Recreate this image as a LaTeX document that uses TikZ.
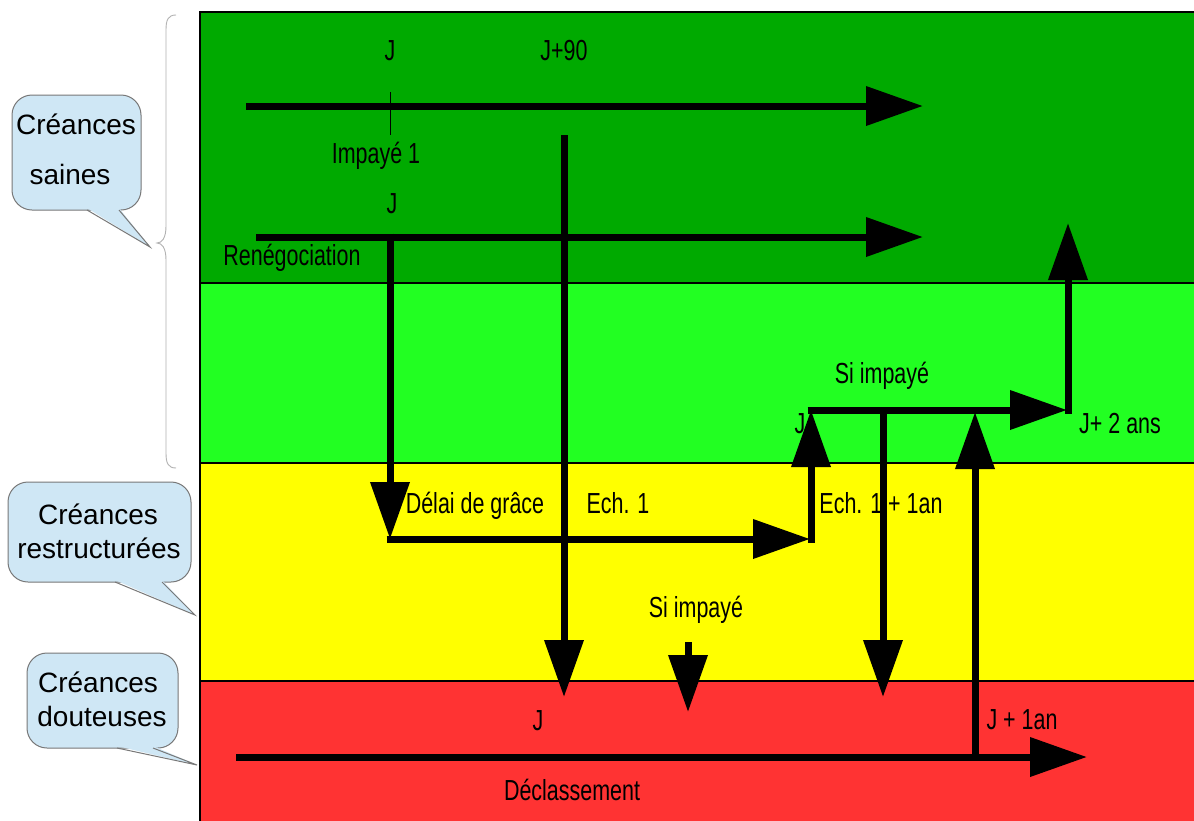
\documentclass[tikz,border=0pt]{standalone}
\usepackage{fontspec}
\setmainfont{Liberation Sans}
\newfontfamily\narrowfont[FakeStretch=0.74]{Liberation Sans}
\usetikzlibrary{arrows.meta}
\definecolor{dkgreen}{RGB}{0,170,0}
\definecolor{ltgreen}{RGB}{34,255,34}
\definecolor{yel}{RGB}{255,255,0}
\definecolor{myred}{RGB}{255,51,51}
\definecolor{calloutblue}{RGB}{207,231,245}
\definecolor{calloutline}{RGB}{120,120,120}
\begin{document}
\begin{tikzpicture}[x=1pt,y=-1pt,
  band/.style={draw=black,line width=1.5pt},
  flow/.style={line width=7pt,-{Triangle[length=57pt,width=38pt]}},
  lbl/.style={font=\narrowfont\fontsize{29}{29}\selectfont,inner sep=0pt,anchor=base},
  ctext/.style={font=\fontsize{28}{28}\selectfont,inner sep=0pt,anchor=base},
  callout/.style={fill=calloutblue,draw=calloutline,line width=1pt},
  tailfill/.style={fill=calloutblue},
  brace/.style={draw=gray!60,line width=0.9pt}
]
\clip (0,0) rectangle (1194,820);
\fill[white] (0,0) rectangle (1194,820);

% bands
\draw[band,fill=dkgreen] (200,12) rectangle (1200,283);
\draw[band,fill=ltgreen] (200,283) rectangle (1200,463);
\draw[band,fill=yel] (200,463) rectangle (1200,681);
\draw[band,fill=myred] (200,681) rectangle (1200,830);

% brace
\draw[brace] (176,15) .. controls (168,15) and (166,20) .. (166,30) -- (166,226)
  .. controls (166,238) and (162,243) .. (157,243)
  .. controls (162,243) and (166,248) .. (166,260) -- (166,453)
  .. controls (166,463) and (168,468) .. (176,468);

% callouts
\draw[callout,rounded corners=20pt] (12,95) rectangle (141,210);
\fill[tailfill] (87,208) -- (150,247) -- (119,208) -- cycle;
\draw[calloutline,line width=1pt] (87,210) -- (150,247) -- (119,210);
\node[ctext] (c1a) at (76,134) {Créances};
\node[ctext] (c1b) at (70,184) {saines};

\draw[callout,rounded corners=20pt] (8,482) rectangle (191,582);
\fill[tailfill] (115,580) -- (195,615) -- (162,580) -- cycle;
\draw[calloutline,line width=1pt] (115,582) -- (195,615) -- (162,582);
\node[ctext] (c2a) at (98,524) {Créances};
\node[ctext] (c2b) at (99,558) {restructurées};

\draw[callout,rounded corners=20pt] (27,653) rectangle (178,748);
\fill[tailfill] (117,746) -- (197,765) -- (153,746) -- cycle;
\draw[calloutline,line width=1pt] (117,748) -- (197,765) -- (153,748);
\node[ctext] (c3a) at (98,692) {Créances};
\node[ctext] (c3b) at (102,726) {douteuses};

% labels
\node[lbl] (j1) at (390,60) {J};
\node[lbl] (j90) at (564,60) {J+90};
\node[lbl] (imp1) at (376,163) {Impayé 1};
\node[lbl] (j2) at (392,213) {J};
\node[lbl] (reneg) at (292,265) {Renégociation};
\node[lbl] (delai) at (475,513) {Délai de grâce};
\node[lbl] (ech1) at (618,513) {Ech. 1};
\node[lbl] (ech1an) at (881,513) {Ech. 1 + 1an};
\node[lbl] (si1) at (882,383) {Si impayé};
\node[lbl] (j3) at (800,433) {J};
\node[lbl] (j2ans) at (1120,433) {J+ 2 ans};
\node[lbl] (si2) at (696,617) {Si impayé};
\node[lbl] (j4) at (538,730) {J};
\node[lbl] (j1an) at (1022,729) {J + 1an};
\node[lbl] (decl) at (572,800) {Déclassement};

% coordinates
\coordinate (t0) at (246,106); \coordinate (t1) at (923,106);
\coordinate (tk0) at (390,92); \coordinate (tk1) at (390,135);
\coordinate (r0) at (256,237); \coordinate (r1) at (923,237);
\coordinate (a0) at (390,233.5); \coordinate (a1) at (390,539);
\coordinate (b0) at (386.5,539); \coordinate (b1) at (810,539);
\coordinate (c0) at (811,542.5); \coordinate (c1) at (811,410);
\coordinate (d0) at (807.5,410); \coordinate (d1) at (1067,410);
\coordinate (e0) at (1068,413.5); \coordinate (e1) at (1068,223);
\coordinate (v0) at (564,135); \coordinate (v1) at (564,697);
\coordinate (s0) at (688,642); \coordinate (s1) at (688,712);
\coordinate (w0) at (883,410); \coordinate (w1) at (883,697);
\coordinate (u0) at (975,760.5); \coordinate (u1) at (975,412);
\coordinate (bt0) at (236,757); \coordinate (bt1) at (1087,757);

% connectors
\draw[flow] (t0) -- (t1);
\draw[black,line width=1pt] (tk0) -- (tk1);
\draw[flow] (r0) -- (r1);
\draw[flow] (a0) -- (a1);
\draw[flow] (b0) -- (b1);
\draw[flow] (c0) -- (c1);
\draw[flow] (d0) -- (d1);
\draw[flow] (e0) -- (e1);
\draw[flow] (v0) -- (v1);
\draw[flow] (s0) -- (s1);
\draw[flow] (w0) -- (w1);
\draw[flow] (u0) -- (u1);
\draw[flow] (bt0) -- (bt1);
\end{tikzpicture}
\end{document}
